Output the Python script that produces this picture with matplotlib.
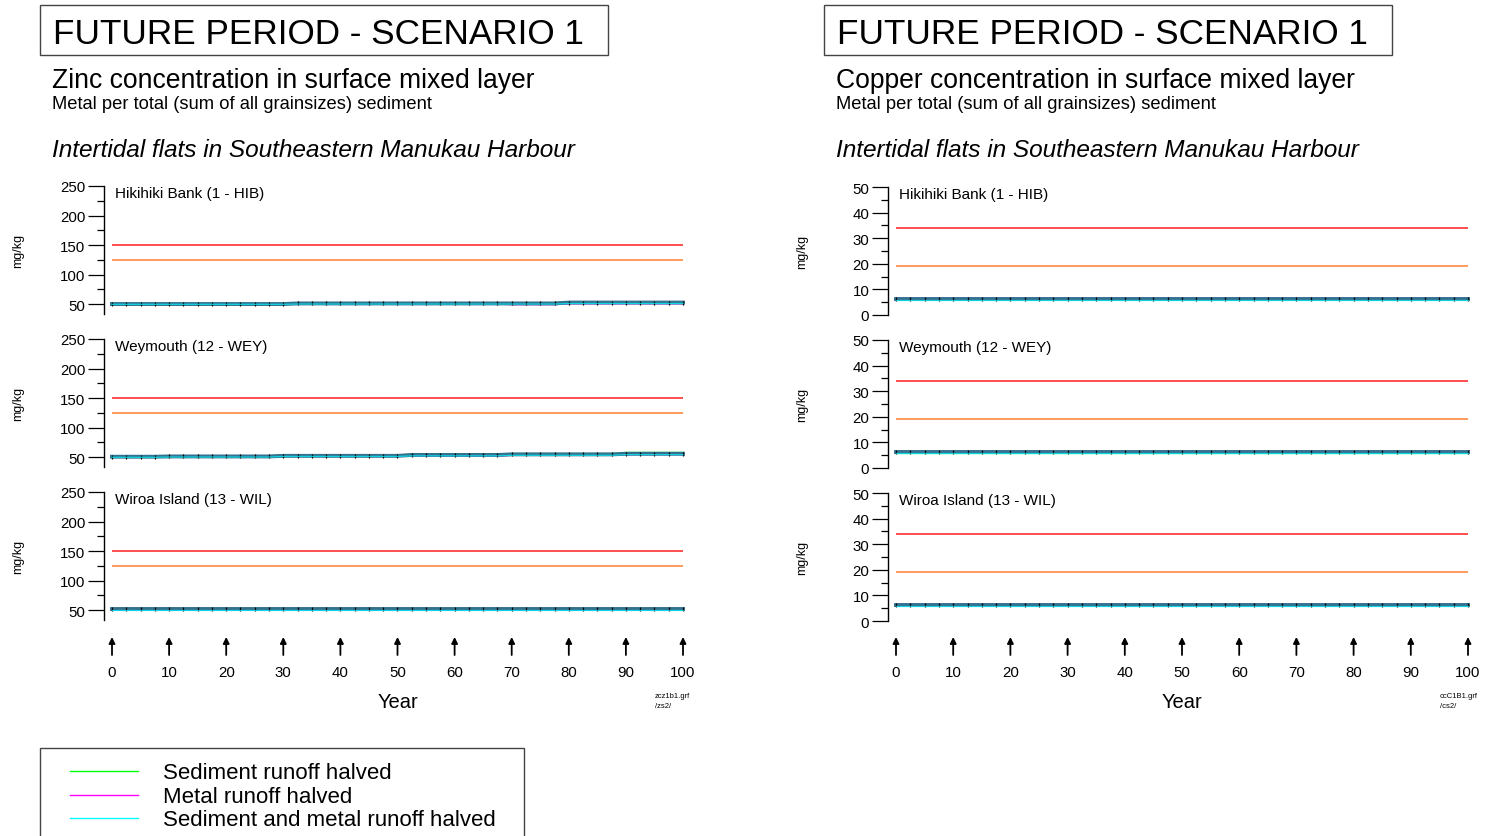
import matplotlib.pyplot as plt
from matplotlib.patches import Rectangle
from matplotlib.lines import Line2D

plt.rcParams['font.family'] = ['Liberation Sans', 'DejaVu Sans']

W, H = 1488, 837

# ---- data ----
years = [0, 2.5, 5, 7.5, 10, 12.5, 15, 17.5, 20, 22.5, 25, 27.5, 30, 32.5, 35, 37.5, 40, 42.5, 45, 47.5,
         50, 52.5, 55, 57.5, 60, 62.5, 65, 67.5, 70, 72.5, 75, 77.5, 80, 82.5, 85, 87.5, 90, 92.5, 95, 97.5, 100]
year_ticks = [0, 10, 20, 30, 40, 50, 60, 70, 80, 90, 100]
sites = ["Hikihiki Bank (1 - HIB)", "Weymouth (12 - WEY)", "Wiroa Island (13 - WIL)"]
scenarios = ["Sediment runoff halved", "Metal runoff halved", "Sediment and metal runoff halved"]
scenario_colors = ["#00ff00", "#ff00ff", "#00ffff"]

zn_limits = [150, 125]
cu_limits = [34, 19]
limit_colors = ["#ff3030", "#ff8a40"]

# zinc, Hikihiki Bank
zn_hib_base = [50, 50, 50, 50, 50, 50, 50, 50, 50, 50, 50, 50, 50,
               51, 51, 51, 51, 51, 51, 51, 51, 51, 51, 51, 51, 51, 51, 51, 51, 51, 51, 51,
               52.5, 52.5, 52.5, 52.5, 52.5, 52.5, 52.5, 52.5, 52.5]
zn_hib_sed = [50, 50, 50, 50, 50, 50, 50, 50, 50, 50, 50, 50, 50,
              51, 51, 51, 51, 51, 51, 51, 51, 51, 51, 51, 51, 51, 51, 51, 51, 51.5, 51.5, 51.5,
              52.5, 52.5, 52.5, 52.5, 52.5, 52.5, 52.5, 52.5, 52.5]
zn_hib_metal = [49.5, 49.5, 49.5, 49.5, 49.5, 49.5, 49.5, 49.5, 49.5, 49.5, 49.5, 49.5, 49.5,
                50.5, 50.5, 50.5, 50.5, 50.5, 50.5, 50.5, 50.5, 50.5, 50.5, 50.5, 50.5, 50.5, 50.5, 50.5,
                49.5, 49.5, 49.5, 49.5,
                51, 51, 51, 51, 51, 51, 51, 51, 51]
zn_hib_both = [49.5, 49.5, 49.5, 49.5, 49.5, 49.5, 49.5, 49.5, 49.5, 49.5, 49.5, 49.5, 49.5,
               50, 50, 50, 50, 50, 50, 50, 50, 50, 50, 50, 50, 50, 50, 50, 50, 50, 50, 50,
               51, 51, 51, 51, 51, 51, 51, 51, 51]

# zinc, Weymouth
zn_wey_base = [50.5, 50.5, 50.5, 50.5, 51, 51, 51, 51, 51, 51, 51, 51,
               52, 52, 52, 52, 52, 52, 52, 52, 52, 53.5, 53.5, 53.5, 53.5, 53.5, 53.5, 53.5,
               54.5, 54.5, 54.5, 54.5, 54.5, 54.5, 54.5, 54.5, 55.5, 55.5, 55.5, 55.5, 55.5]
zn_wey_sed = [50.5, 50.5, 50.5, 50.5, 51.5, 51.5, 51.5, 51.5, 51.5, 51.5, 51.5, 51.5,
              52.5, 52.5, 52.5, 52.5, 52.5, 52.5, 52.5, 52.5, 52.5, 54, 54, 54, 54, 54, 54, 54,
              55, 55, 55, 55, 55, 55, 55, 55, 57, 57, 57, 57, 57]
zn_wey_metal = [50, 50, 50, 50, 50.5, 50.5, 50.5, 50.5, 50.5, 50.5, 50.5, 50.5,
                51.5, 51.5, 51.5, 51.5, 51.5, 51.5, 51.5, 51.5, 51.5, 52, 52, 52, 52, 52, 52, 52,
                53.5, 53.5, 53.5, 53.5, 53.5, 53.5, 53.5, 53.5, 54.5, 54.5, 54.5, 54.5, 54.5]
zn_wey_both = [49.5, 49.5, 49.5, 49.5, 50, 50, 50, 50, 50, 50, 50, 50,
               51, 51, 51, 51, 51, 51, 51, 51, 51, 52, 52, 52, 52, 52, 52, 52,
               53, 53, 53, 53, 53, 53, 53, 53, 54, 54, 54, 54, 54]

# zinc, Wiroa Island
zn_wil_base = [51, 51, 51, 51, 51, 51, 51, 51, 51, 51, 51, 51, 51, 51, 51, 51, 51, 51, 51, 51,
               51, 51, 51, 51, 51, 51, 51, 51, 51, 51, 51, 51, 51, 51, 51, 51, 51, 51, 51, 51, 51]
zn_wil_sed = [51, 51, 51, 51, 51, 51, 51, 51, 51, 51, 51, 51, 51, 51, 51, 51, 51, 51, 51, 51,
              51, 51, 51, 51, 51, 51, 51, 51, 51, 51, 51, 51, 51, 51, 51, 51, 51, 51, 51, 51, 51]
zn_wil_metal = [50.5, 50.5, 50.5, 50.5, 50.5, 50.5, 50.5, 50.5, 50.5, 50.5, 50.5, 50.5, 50.5, 50.5,
                50.5, 50.5, 50.5, 50.5, 50.5, 50.5, 50.5, 50.5, 50.5, 50.5, 50.5, 50.5, 50.5, 50.5,
                50.5, 50.5, 50.5, 50.5, 50.5, 50.5, 50.5, 50.5, 50.5, 50.5, 50.5, 50.5, 50.5]
zn_wil_both = [50.5, 50.5, 50.5, 50.5, 50.5, 50.5, 50.5, 50.5, 50.5, 50.5, 50.5, 50.5, 50.5, 50.5,
               50.5, 50.5, 50.5, 50.5, 50.5, 50.5, 50.5, 50.5, 50.5, 50.5, 50.5, 50.5, 50.5, 50.5,
               50.5, 50.5, 50.5, 50.5, 50.5, 50.5, 50.5, 50.5, 50.5, 50.5, 50.5, 50.5, 50.5]

# copper (all three sites nearly flat)
cu_hib_base = [6.2, 6.2, 6.2, 6.2, 6.2, 6.2, 6.2, 6.2, 6.2, 6.2, 6.2, 6.2, 6.2, 6.2, 6.2, 6.2, 6.2, 6.2, 6.2, 6.2,
               6.2, 6.2, 6.2, 6.2, 6.2, 6.2, 6.2, 6.2, 6.2, 6.2, 6.2, 6.2, 6.2, 6.2, 6.2, 6.2, 6.2, 6.2, 6.2, 6.2, 6.2]
cu_hib_sed = [6.1, 6.1, 6.1, 6.1, 6.1, 6.1, 6.1, 6.1, 6.1, 6.1, 6.1, 6.1, 6.1, 6.1, 6.1, 6.1, 6.1, 6.1, 6.1, 6.1,
              6.1, 6.1, 6.1, 6.1, 6.1, 6.1, 6.1, 6.1, 6.1, 6.1, 6.1, 6.1, 6.1, 6.1, 6.1, 6.1, 6.1, 6.1, 6.1, 6.1, 6.1]
cu_hib_metal = [6.0, 6.0, 6.0, 6.0, 6.0, 6.0, 6.0, 6.0, 6.0, 6.0, 6.0, 6.0, 6.0, 6.0, 6.0, 6.0, 6.0, 6.0, 6.0, 6.0,
                6.0, 6.0, 6.0, 6.0, 6.0, 6.0, 6.0, 6.0, 6.0, 6.0, 6.0, 6.0, 6.0, 6.0, 6.0, 6.0, 6.0, 6.0, 6.0, 6.0, 6.0]
cu_hib_both = [5.9, 5.9, 5.9, 5.9, 5.9, 5.9, 5.9, 5.9, 5.9, 5.9, 5.9, 5.9, 5.9, 5.9, 5.9, 5.9, 5.9, 5.9, 5.9, 5.9,
               5.9, 5.9, 5.9, 5.9, 5.9, 5.9, 5.9, 5.9, 5.9, 5.9, 5.9, 5.9, 5.9, 5.9, 5.9, 5.9, 5.9, 5.9, 5.9, 5.9, 5.9]
cu_wey_base = [6.1, 6.1, 6.1, 6.1, 6.1, 6.1, 6.1, 6.1, 6.1, 6.1, 6.1, 6.1, 6.1, 6.1, 6.1, 6.1, 6.1, 6.1, 6.1, 6.1,
               6.1, 6.1, 6.1, 6.1, 6.1, 6.1, 6.1, 6.1, 6.1, 6.1, 6.1, 6.1, 6.1, 6.1, 6.1, 6.1, 6.1, 6.1, 6.1, 6.1, 6.1]
cu_wey_sed = [6.0, 6.0, 6.0, 6.0, 6.0, 6.0, 6.0, 6.0, 6.0, 6.0, 6.0, 6.0, 6.0, 6.0, 6.0, 6.0, 6.0, 6.0, 6.0, 6.0,
              6.0, 6.0, 6.0, 6.0, 6.0, 6.0, 6.0, 6.0, 6.0, 6.0, 6.0, 6.0, 6.0, 6.0, 6.0, 6.0, 6.0, 6.0, 6.0, 6.0, 6.0]
cu_wey_metal = [5.9, 5.9, 5.9, 5.9, 5.9, 5.9, 5.9, 5.9, 5.9, 5.9, 5.9, 5.9, 5.9, 5.9, 5.9, 5.9, 5.9, 5.9, 5.9, 5.9,
                5.9, 5.9, 5.9, 5.9, 5.9, 5.9, 5.9, 5.9, 5.9, 5.9, 5.9, 5.9, 5.9, 5.9, 5.9, 5.9, 5.9, 5.9, 5.9, 5.9, 5.9]
cu_wey_both = [5.8, 5.8, 5.8, 5.8, 5.8, 5.8, 5.8, 5.8, 5.8, 5.8, 5.8, 5.8, 5.8, 5.8, 5.8, 5.8, 5.8, 5.8, 5.8, 5.8,
               5.8, 5.8, 5.8, 5.8, 5.8, 5.8, 5.8, 5.8, 5.8, 5.8, 5.8, 5.8, 5.8, 5.8, 5.8, 5.8, 5.8, 5.8, 5.8, 5.8, 5.8]
cu_wil_base = cu_hib_base
cu_wil_sed = cu_hib_sed
cu_wil_metal = cu_hib_metal
cu_wil_both = cu_hib_both

zn_panels = [(zn_hib_base, zn_hib_sed, zn_hib_metal, zn_hib_both),
             (zn_wey_base, zn_wey_sed, zn_wey_metal, zn_wey_both),
             (zn_wil_base, zn_wil_sed, zn_wil_metal, zn_wil_both)]
cu_panels = [(cu_hib_base, cu_hib_sed, cu_hib_metal, cu_hib_both),
             (cu_wey_base, cu_wey_sed, cu_wey_metal, cu_wey_both),
             (cu_wil_base, cu_wil_sed, cu_wil_metal, cu_wil_both)]

fig = plt.figure(figsize=(W / 100, H / 100), dpi=100)


def px_axes(left, top, right, bottom):
    return fig.add_axes([left / W, 1 - bottom / H, (right - left) / W, (bottom - top) / H])


def draw_column(axis_x, data_x0, data_x1, right, tops, ylim, major, minor, limits, panels,
                metal_title, tag1, tag2):
    xscale = (data_x1 - data_x0) / 100.0
    xlim = (-(data_x0 - axis_x) / xscale, 100 + (right - data_x1) / xscale)
    for top, site, (base, sed, metal, both) in zip(tops, sites, panels):
        ax = px_axes(axis_x, top, right, top + 128)
        ax.set_xlim(*xlim)
        ax.set_ylim(*ylim)
        for sp in ["top", "right", "bottom"]:
            ax.spines[sp].set_visible(False)
        ax.spines["left"].set_linewidth(1.0)
        ax.set_xticks([])
        ax.set_yticks(major)
        ax.set_yticks(minor, minor=True)
        ax.tick_params(axis="y", which="major", length=11.5, width=0.9, pad=2, labelsize=10.8)
        ax.tick_params(axis="y", which="minor", length=5, width=0.9)
        for v, c in zip(limits, limit_colors):
            ax.hlines(v, years[0], years[-1], color=c, lw=1.2)
        # scenario lines sit under the baseline, "both halved" drawn on top
        ax.plot(years, sed, color=scenario_colors[0], lw=1.6)
        ax.plot(years, metal, color=scenario_colors[1], lw=1.4)
        ax.plot(years, base, color="#35708f", lw=2.8, marker="|", ms=3.5, mew=0.9, mec="black")
        ax.plot(years, both, color=scenario_colors[2], lw=0.9, alpha=0.7)
        ax.annotate(site, xy=(0, 1), xycoords="axes fraction", xytext=(11, -7),
                    textcoords="offset pixels", va="center", ha="left", fontsize=11)
        fig.text((axis_x - 86) / W, 1 - (top + 64) / H, "mg/kg", rotation=90,
                 ha="center", va="center", fontsize=9)

    # year axis drawn as arrows
    axx = px_axes(axis_x, 638, right, 656)
    axx.set_xlim(*xlim)
    axx.set_ylim(0, 1)
    for sp in axx.spines.values():
        sp.set_visible(False)
    axx.set_yticks([])
    axx.set_xticks(year_ticks)
    axx.set_xticklabels([str(t) for t in year_ticks])
    axx.tick_params(axis="x", length=0, pad=7.5, labelsize=10.8)
    for t in year_ticks:
        axx.annotate("", xy=(t, 1), xytext=(t, 0),
                     arrowprops=dict(arrowstyle="-|>", color="black", lw=1.3,
                                     mutation_scale=9, shrinkA=0, shrinkB=0))
    mid = (data_x0 + data_x1) / 2
    fig.text(mid / W, 1 - 702 / H, "Year", ha="center", va="center", fontsize=14.5)
    fig.text((data_x1 - 28) / W, 1 - 697 / H, tag1, ha="left", va="center", fontsize=5.5)
    fig.text((data_x1 - 28) / W, 1 - 707 / H, tag2, ha="left", va="center", fontsize=5.5)

    # header texts
    box_left = axis_x - 64
    fig.patches.append(Rectangle((box_left / W, 1 - 56 / H), 568 / W, 50 / H,
                                 transform=fig.transFigure, fill=False, ec="#444444", lw=1))
    fig.text((box_left + 13) / W, 1 - 44 / H, "FUTURE PERIOD - SCENARIO 1",
             ha="left", va="baseline", fontsize=25.3)
    fig.text((box_left + 12) / W, 1 - 88 / H, metal_title, ha="left", va="baseline", fontsize=19.1)
    fig.text((box_left + 12) / W, 1 - 109 / H, "Metal per total (sum of all grainsizes) sediment",
             ha="left", va="baseline", fontsize=13.2)
    fig.text((box_left + 12) / W, 1 - 157 / H, "Intertidal flats in Southeastern Manukau Harbour",
             ha="left", va="baseline", fontsize=17.6, style="italic")


draw_column(104, 112, 683, 690, [187, 340, 493], (33.1, 250),
            [50, 100, 150, 200, 250], [75, 125, 175, 225], zn_limits, zn_panels,
            "Zinc concentration in surface mixed layer", "zcz1b1.grf", "/zs2/")
draw_column(888, 896, 1468, 1475, [188, 341, 494], (0, 50),
            [0, 10, 20, 30, 40, 50], [5, 15, 25, 35, 45], cu_limits, cu_panels,
            "Copper concentration in surface mixed layer", "ccC1B1.grf", "/cs2/")

# legend box (runs off the bottom edge)
fig.patches.append(Rectangle((40 / W, 1 - 860 / H), 484 / W, 111 / H,
                             transform=fig.transFigure, fill=False, ec="#444444", lw=1,
                             clip_on=False))
for i, (label, c) in enumerate(zip(scenarios, scenario_colors)):
    yy = 1 - (772 + 23.5 * i) / H
    fig.lines.append(Line2D([70 / W, 138 / W], [yy, yy], transform=fig.transFigure, color=c, lw=1))
    fig.text(163 / W, yy - 2 / H, label, ha="left", va="center", fontsize=16)

fig.savefig("out.png", dpi=100, facecolor="white")
